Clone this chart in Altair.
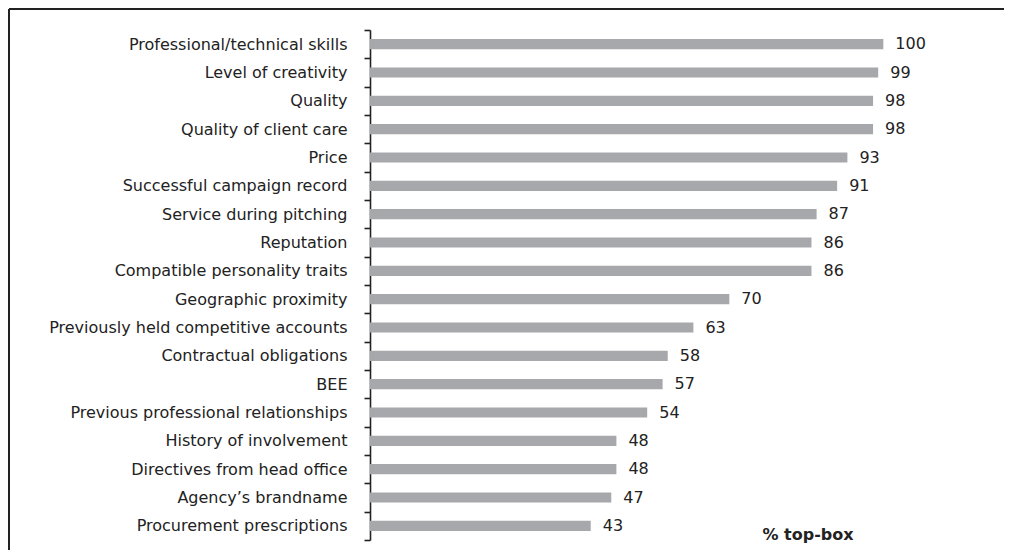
import altair as alt
import pandas as pd

categories = [
    "Professional/technical skills", "Level of creativity", "Quality",
    "Quality of client care", "Price", "Successful campaign record",
    "Service during pitching", "Reputation", "Compatible personality traits",
    "Geographic proximity", "Previously held competitive accounts",
    "Contractual obligations", "BEE", "Previous professional relationships",
    "History of involvement", "Directives from head office",
    "Agency\u2019s brandname", "Procurement prescriptions",
]
values = [100, 99, 98, 98, 93, 91, 87, 86, 86, 70, 63, 58, 57, 54, 48, 48, 47, 43]

df = pd.DataFrame({"factor": categories, "score": values})

FONT = "DejaVu Sans"
FS = 16
W, H = 616, 510

y_enc = alt.Y(
    "factor:N", sort=categories,
    scale=alt.Scale(paddingInner=0, paddingOuter=0),
    axis=alt.Axis(
        title=None, tickBand="extent", domainColor="#222222", domainWidth=1.6,
        tickColor="#222222", tickWidth=1.6, tickSize=6, labelPadding=17,
        labelFont=FONT, labelFontSize=FS, labelColor="#222222", labelLimit=400,
        grid=False,
    ),
)
x_enc = alt.X(
    "score:Q", scale=alt.Scale(domain=[0, 120], nice=False),
    axis=alt.Axis(
        domain=False, ticks=False, labels=False, grid=False,
        title="% top-box", titleX=392, titleY=-6, titleAlign="left",
        titleBaseline="middle", titleFont=FONT, titleFontSize=FS,
        titleFontWeight="bold", titleColor="#222222",
    ),
)

base = alt.Chart(df)
bars = base.mark_bar(color="#a7a8ab", height={"band": 0.36}).encode(x=x_enc, y=y_enc)
labels = base.mark_text(align="left", baseline="middle", dx=12, font=FONT,
                        fontSize=FS, color="#222222").encode(
    x="score:Q", y=alt.Y("factor:N", sort=categories), text="score:Q")

frame_data = alt.Data(values=[{"k": 1}])
top_rule = alt.Chart(frame_data).mark_rule(color="#222222", strokeWidth=2).encode(
    x=alt.value(-361), x2=alt.value(W + 20), y=alt.value(-21))
left_rule = alt.Chart(frame_data).mark_rule(color="#222222", strokeWidth=2).encode(
    x=alt.value(-361), y=alt.value(-21), y2=alt.value(H + 20))

chart = alt.layer(bars, labels, top_rule, left_rule).properties(
    width=W, height=H,
    autosize=alt.AutoSizeParams(type="none"),
    padding={"left": 362, "top": 22, "right": 18, "bottom": 10},
).configure_view(stroke=None)

chart.save("out.html", embed_options={"renderer": "svg", "actions": False})
